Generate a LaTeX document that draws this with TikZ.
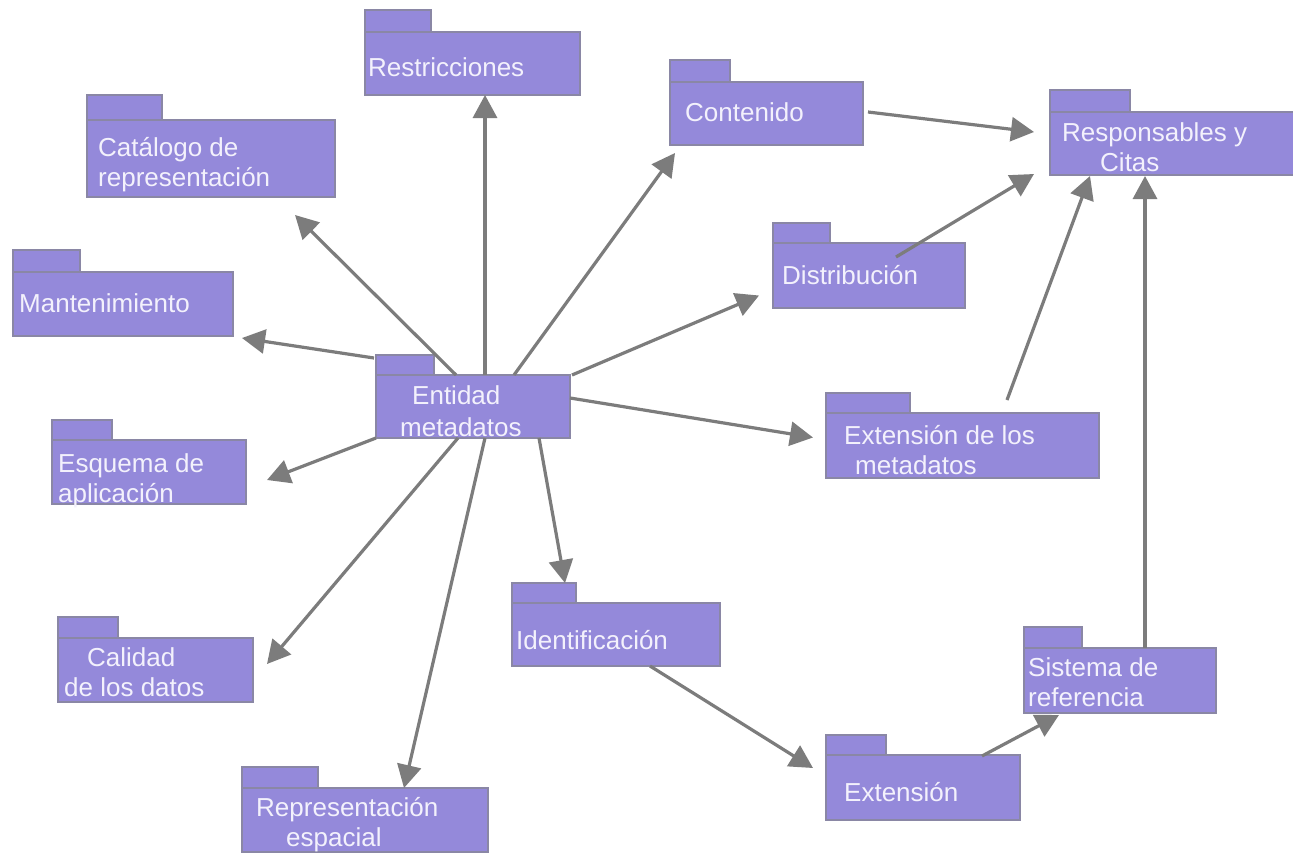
\documentclass[tikz,border=0pt]{standalone}
\usepackage{fontspec}
\setmainfont{Liberation Sans}
\usetikzlibrary{arrows.meta,calc}
\definecolor{pkgfill}{RGB}{148,137,218}
\definecolor{pkgline}{RGB}{138,135,165}
\definecolor{pkgtext}{RGB}{243,241,252}
\definecolor{arrowgray}{RGB}{124,124,124}
\newcommand\umlpkg[7]{%
  \node[pkgbox,minimum width=#4pt,minimum height=#5pt] (#1tab) at (#2,#3) {};
  \node[pkgbox,minimum width=#6pt,minimum height=#7pt] (#1) at (#2,#3+#5) {};
}
\begin{document}
\begin{tikzpicture}[x=1pt,y=-1pt,
  pkgbox/.style={draw=pkgline,fill=pkgfill,line width=2.5pt,rectangle,inner sep=0pt,outer sep=0pt,anchor=north west},
  lbl/.style={text=pkgtext,font=\fontsize{26pt}{30pt}\selectfont,inner sep=0pt,anchor=west,text height=19pt,text depth=0pt},
  conn/.style={draw=arrowgray,line width=3.2pt,-{Triangle[length=23pt,width=24pt]}}]
\useasboundingbox (0,0) rectangle (1293,854);
\fill[white] (0,0) rectangle (1293,854);

% packages: name, x, tab top y, tab width, tab height, body width, body height
\umlpkg{restr}{365}{10}{66}{22}{215}{63}
\umlpkg{catal}{87}{95}{75}{25}{248}{77}
\umlpkg{mant}{13}{250}{67}{22}{220}{64}
\umlpkg{esq}{52}{420}{60}{20}{194}{64}
\umlpkg{cal}{58}{617}{60}{21}{195}{64}
\umlpkg{repr}{242}{767}{76}{21}{246}{64}
\umlpkg{ent}{376}{355}{58}{20}{194}{63}
\umlpkg{ident}{512}{583}{64}{20}{208}{63}
\umlpkg{cont}{670}{60}{60}{22}{193}{63}
\umlpkg{resp}{1050}{90}{80}{22}{250}{63}
\umlpkg{dist}{773}{223}{57}{20}{192}{65}
\umlpkg{extm}{826}{393}{84}{20}{273}{65}
\umlpkg{sist}{1024}{627}{58}{21}{192}{65}
\umlpkg{ext}{826}{735}{60}{20}{194}{65}

% labels
\node[lbl] (restr-l1) at (368,67) {Restricciones};
\node[lbl] (catal-l1) at (98,147) {Catálogo de};
\node[lbl] (catal-l2) at (98,177) {representación};
\node[lbl] (mant-l1) at (19,303) {Mantenimiento};
\node[lbl] (esq-l1) at (58,463) {Esquema de};
\node[lbl] (esq-l2) at (58,493) {aplicación};
\node[lbl] (cal-l1) at (87,657) {Calidad};
\node[lbl] (cal-l2) at (64,687) {de los datos};
\node[lbl] (repr-l1) at (256,807) {Representación};
\node[lbl] (repr-l2) at (286,837) {espacial};
\node[lbl] (ent-l1) at (412,395) {Entidad};
\node[lbl] (ent-l2) at (400,427) {metadatos};
\node[lbl] (ident-l1) at (516,640) {Identificación};
\node[lbl] (cont-l1) at (685,112) {Contenido};
\node[lbl] (resp-l1) at (1062,132) {Responsables y};
\node[lbl] (resp-l2) at (1100,162) {Citas};
\node[lbl] (dist-l1) at (782,275) {Distribución};
\node[lbl] (extm-l1) at (844,435) {Extensión de los};
\node[lbl] (extm-l2) at (855,465) {metadatos};
\node[lbl] (sist-l1) at (1028,667) {Sistema de};
\node[lbl] (sist-l2) at (1028,697) {referencia};
\node[lbl] (ext-l1) at (844,792) {Extensión};

% connectors
\draw[conn] ($(ent.north west)+(109,0)$) -- ($(restr.south west)+(120,0)$);
\draw[conn] ($(ent.north west)+(80,0)$) -- ($(catal.south west)+(208,18)$);
\draw[conn] ($(enttab.north west)+(-2,3)$) -- ($(mant.south east)+(9,2)$);
\draw[conn] (ent.south west) -- ($(esq.south east)+(21,-24)$);
\draw[conn] ($(ent.south west)+(82,0)$) -- ($(cal.east)+(14,-6)$);
\draw[conn] ($(ent.south west)+(109,0)$) -- ($(repr.north west)+(162,0)$);
\draw[conn] ($(ent.south west)+(163,0)$) -- ($(identtab.north west)+(53,0)$);
\draw[conn] ($(ent.north west)+(138,0)$) -- ($(cont.south west)+(5,8)$);
\draw[conn] ($(ent.north east)+(2,0)$) -- ($(dist.west)+(-14,20)$);
\draw[conn] ($(ent.north east)+(0,23)$) -- ($(extm.west)+(-13,-8)$);
\draw[conn] ($(cont.east)+(5,-1.5)$) -- ($(resp.west)+(-16,-11.5)$);
\draw[conn] ($(dist.north west)+(123,14)$) -- ($(resp.south west)+(-16,-1)$);
\draw[conn] ($(extm.north west)+(181,-13)$) -- ($(resp.south west)+(40,1)$);
\draw[conn] ($(sist.north west)+(121,0)$) -- ($(resp.south west)+(95,1)$);
\draw[conn] ($(ident.south west)+(138,0)$) -- ($(ext.north west)+(-13,13)$);
\draw[conn] ($(ext.north west)+(156,1)$) -- ($(sist.south west)+(35,2)$);
\end{tikzpicture}
\end{document}
